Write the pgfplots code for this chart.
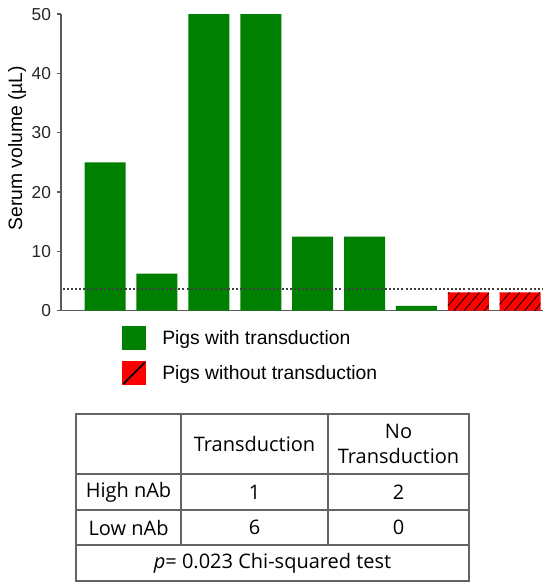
\documentclass[border=0pt]{standalone}
\usepackage{fontspec}
\setmainfont{Liberation Sans}
\newfontfamily\tabfont{Open Sans}
\usepackage{pgfplots}
\pgfplotsset{compat=1.18}
\usetikzlibrary{patterns.meta}
\definecolor{bargreen}{RGB}{0,128,0}
\definecolor{axgray}{RGB}{90,90,90}
\definecolor{tabgray}{RGB}{100,100,100}
\begin{document}
\begin{tikzpicture}
\useasboundingbox (0,0) rectangle (412.5pt,440.25pt);
\begin{axis}[
  at={(45.75pt,207.2pt)}, anchor=south west,
  scale only axis, width=361.5pt, height=222.5pt,
  xmin=0.15, xmax=9.44, ymin=0, ymax=50,
  axis x line=bottom, axis y line=left,
  axis line style={-, axgray, line width=0.9pt},
  xtick=\empty,
  ytick={0,10,20,30,40,50},
  tick style={axgray, line width=0.9pt},
  major tick length=3pt,
  tick align=outside,
  /pgf/number format/assume math mode=true,
  yticklabel style={font=\fontsize{13}{15}\selectfont, text=black!85, xshift=-1pt},
  ylabel={Serum volume (µL)},
  ylabel style={font=\fontsize{14.5}{16}\selectfont, at={(axis description cs:-0.091,0.548)}, anchor=center},
  clip=false,
  legend style={draw=none, fill=none, at={(axis description cs:0.1266,-0.052)}, anchor=north west,
    font=\fontsize{14.5}{16}\selectfont, row sep=8pt, column sep=10pt, inner sep=0pt},
  legend cell align=left,
]
\addplot[ybar, bar width=30.75pt, bar shift=0pt, fill=bargreen, draw=none,
  legend image code/.code={\fill[bargreen] (0pt,-9pt) rectangle (18pt,9pt);}]
  coordinates {(1,25) (2,6.25) (3,50) (4,50) (5,12.5) (6,12.5) (7,0.8)};
\addlegendentry{Pigs with transduction}
\addplot[ybar, bar width=30.75pt, bar shift=0pt, fill=red, draw=none,
  legend image code/.code={\fill[red] (0pt,-9pt) rectangle (18pt,9pt);
    \draw[black, line width=1.4pt] (1pt,-8pt) -- (17pt,8pt);}]
  coordinates {(8,3.1) (9,3.1)};
\addlegendentry{Pigs without transduction}
\addplot[ybar, bar width=30.75pt, bar shift=0pt, draw=none, forget plot,
  pattern={Lines[angle=50,distance=5.8pt,line width=0.6pt]}, pattern color=black]
  coordinates {(8,3.1) (9,3.1)};
\addplot[dash pattern=on 1.5pt off 1.6pt, black!75, line width=1.5pt, forget plot] coordinates {(0.18,3.6) (9.44,3.6)};
\end{axis}
% table
\begin{scope}[tabgray, line width=1pt]
\draw (57pt,4.5pt) rectangle (351.75pt,129.75pt);
\draw (57pt,84.75pt) -- (351.75pt,84.75pt);
\draw (57pt,57.75pt) -- (351.75pt,57.75pt);
\draw (57pt,31.5pt) -- (351.75pt,31.5pt);
\draw (135.75pt,31.5pt) -- (135.75pt,129.75pt);
\draw (246pt,31.5pt) -- (246pt,129.75pt);
\end{scope}
\begin{scope}[every node/.style={font=\tabfont\fontsize{15}{18.75}\selectfont, text=black, inner sep=0pt}]
\node at (190.9pt,107.25pt) {Transduction};
\node[align=center] at (298.9pt,107.25pt) {No\\Transduction};
\node at (96.4pt,71.25pt) {High nAb};
\node at (190.9pt,71.25pt) {1};
\node at (298.9pt,71.25pt) {2};
\node at (96.4pt,44.6pt) {Low nAb};
\node at (190.9pt,44.6pt) {6};
\node at (298.9pt,44.6pt) {0};
\node at (204.4pt,18pt) {{\itshape p}= 0.023 Chi-squared test};
\end{scope}
\end{tikzpicture}
\end{document}
